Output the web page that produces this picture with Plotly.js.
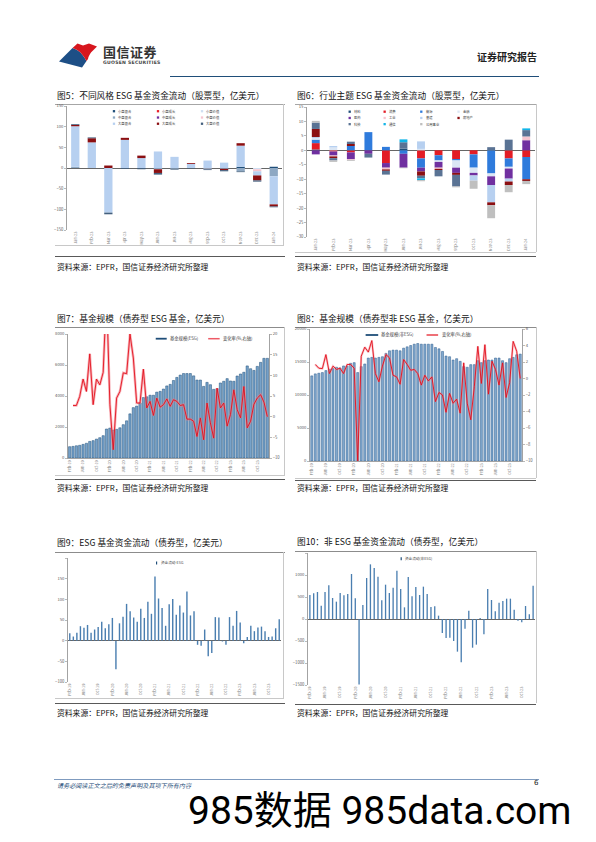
<!DOCTYPE html>
<html><head><meta charset="utf-8">
<script src="https://cdn.plot.ly/plotly-3.0.1.min.js"></script>
<style>
body{margin:0;width:596px;height:842px;position:relative;background:#fff;overflow:hidden;font-family:"Noto Sans CJK SC","Noto Sans",sans-serif;}
.t{position:absolute;font-size:8.7px;color:#111;white-space:nowrap;line-height:1;}
.src{position:absolute;font-size:7.8px;color:#111;white-space:nowrap;line-height:1;}
.ln{position:absolute;}
</style></head><body>
<svg style="position:absolute;left:0;top:0" width="120" height="80" viewBox="0 0 120 80">
  <path d="M59,61.5 L72.5,48 Q77,49 80.5,52.5 Q84,56.5 86.5,61 Q84.5,64 82,67.5 Z" fill="#1d4f86"/>
  <path d="M72.5,48 L77.5,43.5 L83,45.5 L89,43.5 L97,46.5 L93,50.5 Q89,54 88,59 L86.5,61 Q84,56.5 80.5,52.5 Q77,49 72.5,48 Z" fill="#d7161e"/>
</svg>
<div class="t" style="left:103px;top:44.5px;font-size:13px;font-weight:700;color:#333;letter-spacing:0.5px">国信证券</div>
<div class="t" style="left:103px;top:61px;font-size:4.6px;font-weight:700;color:#444;letter-spacing:0.25px;font-family:'DejaVu Sans',sans-serif">GUOSEN SECURITIES</div>
<div class="t" style="left:477px;top:52px;font-size:10px;font-weight:700;color:#222">证券研究报告</div>
<div class="ln" style="left:170px;top:75.5px;width:369px;height:1.5px;background:#1f4e79"></div>

<div class="t" style="left:57px;top:92px">图5：不同风格 ESG 基金资金流动（股票型，亿美元）</div>
<div class="t" style="left:297px;top:92px">图6：行业主题 ESG 基金资金流动（股票型，亿美元）</div>
<div class="t" style="left:57px;top:314.5px">图7：基金规模（债券型 ESG 基金，亿美元）</div>
<div class="t" style="left:297px;top:314.5px">图8：基金规模（债券型非 ESG 基金，亿美元）</div>
<div class="t" style="left:57px;top:539px">图9：ESG 基金资金流动（债券型，亿美元）</div>
<div class="t" style="left:297px;top:538px">图10：非 ESG 基金资金流动（债券型，亿美元）</div>

<div class="src" style="left:57px;top:262.5px">资料来源：EPFR，国信证券经济研究所整理</div>
<div class="src" style="left:297px;top:262.5px">资料来源：EPFR，国信证券经济研究所整理</div>
<div class="src" style="left:57px;top:483.5px">资料来源：EPFR，国信证券经济研究所整理</div>
<div class="src" style="left:297px;top:483.5px">资料来源：EPFR，国信证券经济研究所整理</div>
<div class="src" style="left:57px;top:708.5px">资料来源：EPFR，国信证券经济研究所整理</div>
<div class="src" style="left:297px;top:708.5px">资料来源：EPFR，国信证券经济研究所整理</div>

<!-- title lines -->
<div class="ln" style="left:55px;top:104px;width:230px;height:1px;background:#a6a6a6"></div>
<div class="ln" style="left:295px;top:104px;width:241px;height:1px;background:#a6a6a6"></div>
<div class="ln" style="left:55px;top:327px;width:230px;height:1px;background:#8c8c8c"></div>
<div class="ln" style="left:295px;top:326.5px;width:241px;height:1px;background:#8c8c8c"></div>
<div class="ln" style="left:55px;top:552px;width:230px;height:1px;background:#8c8c8c"></div>
<div class="ln" style="left:295px;top:550.5px;width:241px;height:1px;background:#8c8c8c"></div>
<!-- frames -->
<div class="ln" style="left:283px;top:104px;width:1px;height:141px;background:#c8c8c8"></div>
<div class="ln" style="left:55px;top:245px;width:229px;height:1px;background:#c8c8c8"></div>
<div class="ln" style="left:535.5px;top:104px;width:1px;height:148px;background:#c8c8c8"></div>
<div class="ln" style="left:295px;top:251.5px;width:241px;height:1px;background:#c8c8c8"></div>
<div class="ln" style="left:284px;top:327px;width:1px;height:148px;background:#c8c8c8"></div>
<div class="ln" style="left:55px;top:475px;width:230px;height:1px;background:#c8c8c8"></div>
<div class="ln" style="left:535.5px;top:326.5px;width:1px;height:151px;background:#c8c8c8"></div>
<div class="ln" style="left:295px;top:477.5px;width:241px;height:1px;background:#c8c8c8"></div>
<div class="ln" style="left:283px;top:552px;width:1px;height:146px;background:#c8c8c8"></div>
<div class="ln" style="left:55px;top:698px;width:229px;height:1px;background:#c8c8c8"></div>
<div class="ln" style="left:535.5px;top:550.5px;width:1px;height:152px;background:#c8c8c8"></div>
<!-- bottom dark lines -->
<div class="ln" style="left:55px;top:256px;width:230px;height:1.3px;background:#595959"></div>
<div class="ln" style="left:295px;top:256px;width:241px;height:1.3px;background:#595959"></div>
<div class="ln" style="left:55px;top:479px;width:230px;height:1.3px;background:#595959"></div>
<div class="ln" style="left:295px;top:479.5px;width:241px;height:1.3px;background:#595959"></div>
<div class="ln" style="left:55px;top:703px;width:230px;height:1.3px;background:#595959"></div>
<div class="ln" style="left:295px;top:703.5px;width:241px;height:1.3px;background:#595959"></div>

<!-- footer -->
<div class="ln" style="left:54px;top:779px;width:485px;height:1px;background:#7f9bbf"></div>
<div class="t" style="left:57px;top:783px;font-size:6.1px;font-style:italic;color:#1f4e79">请务必阅读正文之后的免责声明及其项下所有内容</div>
<div class="t" style="left:534px;top:780px;font-size:7px;color:#222;font-family:'DejaVu Sans',sans-serif">6</div>
<div class="t" style="left:188px;top:792px;font-size:39px;color:#000;font-family:Roboto,'Noto Sans CJK SC',sans-serif">985数据 985data.com</div>

<script>
// ---------- DATA ----------
const months13 = ["Jan-23","Feb-23","Mar-23","Apr-23","May-23","Jun-23","Jul-23","Aug-23","Sep-23","Oct-23","Nov-23","Dec-23","Jan-24"];
const months60 = ["Feb-19","Mar-19","Apr-19","May-19","Jun-19","Jul-19","Aug-19","Sep-19","Oct-19","Nov-19","Dec-19",
 "Jan-20","Feb-20","Mar-20","Apr-20","May-20","Jun-20","Jul-20","Aug-20","Sep-20","Oct-20","Nov-20","Dec-20",
 "Jan-21","Feb-21","Mar-21","Apr-21","May-21","Jun-21","Jul-21","Aug-21","Sep-21","Oct-21","Nov-21","Dec-21",
 "Jan-22","Feb-22","Mar-22","Apr-22","May-22","Jun-22","Jul-22","Aug-22","Sep-22","Oct-22","Nov-22","Dec-22",
 "Jan-23","Feb-23","Mar-23","Apr-23","May-23","Jun-23","Jul-23","Aug-23","Sep-23","Oct-23","Nov-23","Dec-23","Jan-24"];

// Fig 5: style ESG equity fund flows
const styleNames = ["小盘混合","小盘成长","小盘价值","中盘混合","中盘成长","中盘价值","大盘混合","大盘成长","大盘价值"];
const smallBlend  = [0,0,0,0,0,0,0,0,0,0,3,0,3];
const smallGrowth = [0,0,0,0,0,0,0,0,0,0,0,0,0];
const smallValue  = [0,0,0,0,0,0,0,0,0,0,0,-3,0];
const midBlend    = [3,0,0,0,0,-3,-2,0,-2,-2,-8,0,-20];
const midGrowth   = [0,0,0,0,0,0,0,0,0,0,0,0,0];
const midValue    = [0,0,0,0,0,0,0,0,-1,0,0,-5,0];
const largeBlend  = [98,62,-108,68,24,40,27,10,18,13,51,-10,-68];
const largeGrowth = [3,10,6,5,6,-9,0,2,0,-3,6,-12,-5];
const largeValue  = [2,2,-4,-2,-3,-4,-2,-1,-2,-3,-2,-3,-2];

// Fig 6: sector ESG equity fund flows
const sectorNames = ["材料","消费","能源","金融","医药","工业","基建","房地产","科技","通信","公用事业"];
const materials   = [0.3,0,0,0,0,0.6,0,0,0,0,0,0,0];
const consumer    = [2.2,-0.4,-0.7,0,-4.4,0,-2.8,-1.7,-3,-1.4,0,-2.8,-2.3];
const energy      = [1.2,0,1.5,6.3,1.2,-1.2,-3.2,-1.8,-0.5,-4.6,-8,-2.9,-7.7];
const financials  = [0.6,1.0,0,0,0,0,0.5,-0.5,-2.5,-1.8,-1,-0.6,0];
const healthcare  = [-1.4,-1.4,-2.4,-1.2,-1.6,-4.8,-1.3,-2,-1.8,-0.9,-3,-3.5,3.5];
const industrials = [0,-0.3,-0.3,0,-0.6,0,0,-0.4,0,0,0,0,1.3];
const infra       = [0.3,0.5,0,0,0,0,2.6,0,0,-1.8,-6,-1,0];
const realEstate  = [2.8,-0.6,0.7,0,-0.5,0,-1.5,-0.4,-0.7,0,-1,-1.2,-0.6];
const technology  = [2.2,-0.8,0.8,-1.3,-1.3,2.2,-0.9,-2.2,-4,0,1.1,3.7,2.2];
const telecom     = [0,0,0,0,0,1,-0.6,0,0,0,0,0,0.6];
const utilities   = [0.6,-0.5,-0.3,0,0,-0.2,-0.4,0,-0.3,-2.8,-4.5,-2.5,-1.1];

// Fig 7: ESG bond fund AUM and change
const esgAum = [730,750,790,820,880,950,1070,1120,1220,1310,1440,1870,1930,1800,1850,1950,2150,2400,2850,3250,
 3350,3550,3900,3950,4050,4050,4250,4300,4450,4650,4750,5000,5200,5350,5450,5450,5450,5300,5030,5030,
 4620,4880,4730,4430,4470,4840,4950,5120,4970,4950,5290,5420,5530,5940,5760,5650,5910,6170,6430,6430];
const esgChg = [null,2.7,2.7,4.9,9.1,6.1,15.2,2.9,9.1,7.7,10.7,30,3,-8,4.5,6.1,10.6,10.4,20,14.2,
 3.3,3.3,11.5,2.1,3.7,0.3,4.5,2.3,2.9,4.3,2.5,4.1,3.7,2.7,2.9,-0.6,-0.6,-1.1,-4.8,-0.3,
 -5.6,3.3,-1.5,-5.2,6.9,2.1,3.3,-2.3,0.5,6.5,1.7,-0.3,7.3,-2.7,-1.1,3.0,4.5,5.3,3.5,0];

// Fig 8: non-ESG bond fund AUM and change
const nonEsgAum = [12900,13200,13300,13400,13700,13900,14000,14200,14100,14400,14400,14800,14900,13400,14300,14700,15600,15700,15600,15700,
 15800,16300,16700,16800,16800,16700,17100,17300,17500,17700,17800,17700,17700,17700,17700,17200,17000,16600,15900,15800,
 15300,15500,15100,14300,14200,14600,14600,15200,14900,15200,15300,15300,15600,15600,15200,14900,15500,15700,16100,16200];
const nonEsgChg = [null,1.7,1.25,1.2,2.9,0.6,1.5,1.1,1.25,0.6,1.7,1.7,1.25,-10,2.7,3.8,3.2,4.6,0.6,-0.4,
 1.5,2.9,2.5,0.4,0.2,-0.7,2.3,1.7,1.0,1.1,0.6,-0.8,0.4,-0.3,0.2,-2.8,-1.7,-2.0,-4.1,-1.8,
 -3.0,-2.5,-4.2,1.9,-3.0,-5.0,-1.0,3.9,-0.6,4.1,-1.9,2.1,1.1,-0.8,1.9,-2.3,-0.5,4.5,3.3,0];

// Fig 9: ESG bond fund flows
const esgFlow = [18,10,19,35,31,38,19,27,33,46,30,40,55,-69,42,58,89,71,56,46,
 77,55,94,65,155,102,79,36,88,101,63,85,68,119,61,71,-10,-12,27,-38,
 -30,57,56,-2,-10,57,36,72,44,-6,9,36,23,32,34,23,9,10,30,52];

// Fig 10: non-ESG bond fund flows
const nonEsgFlow = [545,583,614,303,614,765,477,394,591,538,568,1023,470,-1490,318,932,1242,1159,962,424,
 780,591,712,1098,682,265,955,515,727,545,735,568,273,288,76,-318,-432,-424,-500,-742,
 -985,-220,189,-652,-583,23,-348,682,432,174,371,409,462,462,212,-38,-76,295,106,757];

// ---------- STYLE ----------
const FONT = "'Noto Sans CJK SC','DejaVu Sans',sans-serif";
const styleColors = ["#1f4e79","#e8202a","#cfdff2","#8ea8c3","#7030a0","#f6c4cf","#b7d0f0","#8b0f12","#44607e"];
const sectorColors = ["#1f4e79","#e31c25","#2f7bdc","#dbe6f4","#7030a0","#f6c4cf","#b7d0f0","#8b0f12","#5a7394","#12b5e8","#bfbfbf"];
const tickFont = {family: FONT, size: 4.2, color: "#595959"};

function chart(box, plot, traces, extra, legendItems) {
  const el = document.createElement('div');
  el.style.cssText = `position:absolute;left:${box[0]}px;top:${box[1]}px;width:${box[2]-box[0]}px;height:${box[3]-box[1]}px;`;
  document.body.appendChild(el);
  const pw = plot[2]-plot[0], ph = plot[3]-plot[1];
  const px = X => (X - plot[0]) / pw;
  const py = Y => (plot[3] - Y) / ph;
  const annotations = [], shapes = [];
  (legendItems || []).forEach(it => {
    if (it.kind === 'sq') {
      shapes.push({type:'rect', xref:'paper', yref:'paper', x0:px(it.x), x1:px(it.x + it.w), y0:py(it.y + it.h/2), y1:py(it.y - it.h/2), fillcolor:it.color, line:{width:0}});
    } else if (it.kind === 'line') {
      shapes.push({type:'line', xref:'paper', yref:'paper', x0:px(it.x), x1:px(it.x + it.w), y0:py(it.y), y1:py(it.y), line:{color:it.color, width:it.lw}});
    }
    annotations.push({xref:'paper', yref:'paper', x:px(it.tx), y:py(it.y), xanchor:'left', yanchor:'middle', showarrow:false, text:it.text, font:{family:FONT, size:it.fs, color:'#404040'}});
  });
  const layout = Object.assign({
    width: box[2]-box[0], height: box[3]-box[1],
    margin: {l: plot[0]-box[0], t: plot[1]-box[1], r: box[2]-plot[2], b: box[3]-plot[3], pad: 0},
    paper_bgcolor: 'rgba(0,0,0,0)', plot_bgcolor: 'rgba(0,0,0,0)',
    showlegend: false, hovermode: false,
    font: {family: FONT, size: 4.2, color: '#595959'},
    annotations, shapes
  }, extra);
  Plotly.newPlot(el, traces, layout, {staticPlot: true, displayModeBar: false});
}

function yAx(range, vals, o) {
  return Object.assign({range, tickvals: vals, tickformat: 'd', showline: true, linecolor: '#8c8c8c', linewidth: 0.8,
    ticks: 'outside', ticklen: 2, tickwidth: 0.6, tickcolor: '#8c8c8c', showgrid: false, zeroline: true,
    zerolinecolor: '#404040', zerolinewidth: 0.8, tickfont: tickFont, automargin: false, fixedrange: true}, o || {});
}
function xCat(cats, vals, o) {
  return Object.assign({type: 'category', categoryarray: cats, range: [-0.5, cats.length - 0.5], tickvals: vals,
    tickangle: -90, showline: false, ticks: '', showgrid: false, zeroline: false,
    tickfont: {family: FONT, size: 3.8, color: '#7f7f7f'}, automargin: false, fixedrange: true}, o || {});
}
const every4 = months60.filter((m, i) => i % 4 === 0);

// ---------- Fig 5 ----------
{
  const series = [smallBlend, smallGrowth, smallValue, midBlend, midGrowth, midValue, largeBlend, largeGrowth, largeValue];
  const traces = series.map((s, i) => ({type: 'bar', x: months13, y: s, name: styleNames[i], marker: {color: styleColors[i], line: {width: 0}}}));
  const cols = [112.5, 156.5, 200.5], rows = [111.5, 117.8, 124];
  const leg = styleNames.map((n, i) => ({kind: 'sq', x: cols[i % 3], y: rows[Math.floor(i / 3)], w: 2.3, h: 2.3, color: styleColors[i], tx: cols[i % 3] + 3.4, text: n, fs: 3.3}));
  chart([48, 100, 290, 252], [66.7, 106.3, 281.6, 230],
    traces,
    {barmode: 'relative', bargap: 0.5,
     xaxis: xCat(months13, months13),
     yaxis: yAx([-150, 150], [-150, -100, -50, 0, 50, 100, 150])}, leg);
}

// ---------- Fig 6 ----------
{
  const series = [materials, consumer, energy, financials, healthcare, industrials, infra, realEstate, technology, telecom, utilities];
  const traces = series.map((s, i) => ({type: 'bar', x: months13, y: s, name: sectorNames[i], marker: {color: sectorColors[i], line: {width: 0}}}));
  const cols = [348.3, 383.3, 420, 457.3], rows = [111.7, 118, 124.2];
  const leg = sectorNames.map((n, i) => ({kind: 'sq', x: cols[i % 4], y: rows[Math.floor(i / 4)], w: 2.3, h: 2.3, color: sectorColors[i], tx: cols[i % 4] + 3.4, text: n, fs: 3.3}));
  chart([290, 100, 540, 258], [306.7, 107, 535, 237.3],
    traces,
    {barmode: 'relative', bargap: 0.55,
     xaxis: xCat(months13, months13),
     yaxis: yAx([-30, 15], [-30, -25, -20, -15, -10, -5, 0, 5, 10, 15])}, leg);
}

// ---------- Fig 7 ----------
{
  const traces = [
    {type: 'bar', x: months60, y: esgAum, name: '基金规模(ESG)', marker: {color: '#76a2ca', line: {color: '#1f4e79', width: 0.5}}},
    {type: 'scatter', mode: 'lines', x: months60, y: esgChg, yaxis: 'y2', line: {color: 'rgba(240,120,132,0.55)', width: 2.6}, connectgaps: false},
    {type: 'scatter', mode: 'lines', x: months60, y: esgChg, yaxis: 'y2', name: '变化率(%,右轴)', line: {color: '#e3101c', width: 0.9}, connectgaps: false}
  ];
  const leg = [
    {kind: 'line', x: 155.7, y: 339, w: 11, lw: 1.8, color: '#1f4e79', tx: 168, text: '基金规模(ESG)', fs: 4.3},
    {kind: 'line', x: 208.3, y: 339, w: 11.5, lw: 1.5, color: '#ee5a66', tx: 221, text: '变化率(%,右轴)', fs: 4.3}
  ];
  chart([48, 330, 292, 481], [67.7, 334.3, 269.3, 458.3], traces,
    {bargap: 0.32,
     xaxis: xCat(months60, every4, {showline: true, linecolor: '#8c8c8c', linewidth: 0.8}),
     yaxis: yAx([0, 8000], [0, 2000, 4000, 6000, 8000], {zeroline: false}),
     yaxis2: yAx([-10, 20], [-10, -5, 0, 5, 10, 15, 20], {overlaying: 'y', side: 'right', ticksuffix: '%', zeroline: false})}, leg);
}

// ---------- Fig 8 ----------
{
  const traces = [
    {type: 'bar', x: months60, y: nonEsgAum, name: '基金规模(非ESG)', marker: {color: '#80a8ce', line: {color: '#2a5a8c', width: 0.5}}},
    {type: 'scatter', mode: 'lines', x: months60, y: nonEsgChg, yaxis: 'y2', line: {color: 'rgba(240,120,132,0.45)', width: 2.2}, connectgaps: false},
    {type: 'scatter', mode: 'lines', x: months60, y: nonEsgChg, yaxis: 'y2', name: '变化率(%,右轴)', line: {color: '#e3101c', width: 0.9}, connectgaps: false}
  ];
  const leg = [
    {kind: 'line', x: 365.7, y: 335, w: 12.6, lw: 1.8, color: '#1f4e79', tx: 379.5, text: '基金规模(非ESG)', fs: 4.3},
    {kind: 'line', x: 426.7, y: 335, w: 11.6, lw: 1.2, color: '#e3101c', tx: 440, text: '变化率(%,右轴)', fs: 4.3}
  ];
  chart([288, 325, 540, 481], [310, 329, 522.3, 461], traces,
    {bargap: 0.42,
     xaxis: xCat(months60, every4, {showline: true, linecolor: '#8c8c8c', linewidth: 0.8}),
     yaxis: yAx([0, 20000], [0, 5000, 10000, 15000, 20000], {zeroline: false}),
     yaxis2: yAx([-10, 6], [-10, -8, -6, -4, -2, 0, 2, 4, 6], {overlaying: 'y', side: 'right', ticksuffix: '%', zeroline: false})}, leg);
}

// ---------- Fig 9 ----------
{
  const traces = [{type: 'bar', x: months60, y: esgFlow, name: '资金流动-ESG', marker: {color: '#4a7eb0', line: {width: 0}}}];
  const leg = [{kind: 'sq', x: 156, y: 563.3, w: 1.2, h: 3, color: '#1f4e79', tx: 158.8, text: '资金流动-ESG', fs: 3.6}];
  chart([48, 555, 290, 700], [67.7, 558.3, 281.5, 682.3], traces,
    {bargap: 0.6,
     xaxis: xCat(months60, every4),
     yaxis: yAx([-100, 200], [-100, -50, 0, 50, 100, 150, 200])}, leg);
}

// ---------- Fig 10 ----------
{
  const traces = [{type: 'bar', x: months60, y: nonEsgFlow, name: '资金流动(非ESG)', marker: {color: '#4a7eb0', line: {width: 0}}}];
  const leg = [{kind: 'sq', x: 400.5, y: 559, w: 1.2, h: 3, color: '#1f4e79', tx: 403.3, text: '资金流动(非ESG)', fs: 3.6}];
  chart([288, 550, 540, 704], [307.7, 553.3, 535.2, 685.3], traces,
    {bargap: 0.65,
     xaxis: xCat(months60, every4),
     yaxis: yAx([-1500, 1500], [-1500, -1000, -500, 0, 500, 1000, 1500])}, leg);
}
</script>
</body></html>
